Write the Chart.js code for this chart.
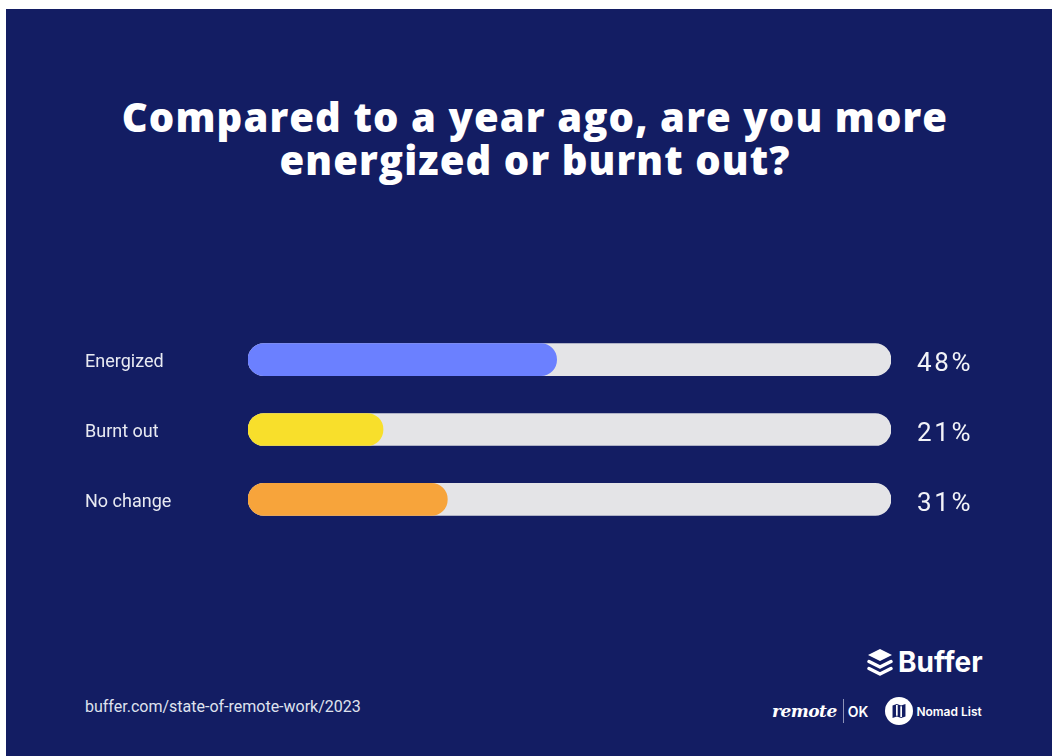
<!DOCTYPE html>
<html>
<head>
<meta charset="utf-8">
<script src="https://cdn.jsdelivr.net/npm/chart.js@4.4.1/dist/chart.umd.min.js"></script>
<style>
  html, body { margin: 0; padding: 0; background: #fff; }
  body { width: 1052px; height: 756px; position: relative; overflow: hidden; font-family: Roboto, "Noto Sans", sans-serif; }
  #panel { position: absolute; left: 6px; top: 9px; right: 0; bottom: 0; background: #131d63; }
  #title {
    position: absolute; left: 20px; width: 1030px; top: 95px;
    text-align: center; color: #fff;
    font-family: "Open Sans", Inter, sans-serif; font-weight: 800;
    font-size: 40px; line-height: 43px; letter-spacing: 1.1px;
  }
  #chart { position: absolute; left: 0; top: 314px; }
  #source { position: absolute; left: 85px; top: 697px; color: #dfe2ee; font-size: 16px; }
  #buffer { position: absolute; left: 867px; top: 645px; display: flex; align-items: center; color: #fff; }
  #buffer span { font-family: Inter, sans-serif; font-weight: 700; font-size: 28px; margin-left: 5px; letter-spacing: 0; }
  #partners { position: absolute; left: 772px; top: 698px; height: 26px; display: flex; align-items: center; color: #fff; }
  #partners .remote { font-family: "DejaVu Serif", serif; font-style: italic; font-weight: 700; font-size: 17px; letter-spacing: -0.5px; }
  #partners .bar { width: 1px; height: 24px; background: #8d93b8; margin: 0 4px 0 6px; }
  #partners .ok { font-family: Inter, sans-serif; font-weight: 600; font-size: 14px; }
  #partners .nomad { font-family: Inter, sans-serif; font-weight: 600; font-size: 12px; margin-left: 3px; }
  #partners svg { margin-left: 17px; }
</style>
</head>
<body>
<div id="panel"></div>
<div id="title">Compared to a year ago, are you more<br>energized or burnt out?</div>
<canvas id="chart" width="1052" height="231"></canvas>
<div id="source">buffer.com/state-of-remote-work/2023</div>
<div id="buffer">
  <svg width="26" height="29" viewBox="0 0 26 29">
    <path d="M13 1 L25 7 L13 13 L1 7 Z" fill="#fff"/>
    <path d="M2 13.5 L13 19 L24 13.5" stroke="#fff" stroke-width="3.4" fill="none" stroke-linejoin="round" stroke-linecap="round"/>
    <path d="M2 20.5 L13 26 L24 20.5" stroke="#fff" stroke-width="3.4" fill="none" stroke-linejoin="round" stroke-linecap="round"/>
  </svg>
  <span>Buffer</span>
</div>
<div id="partners">
  <span class="remote">remote</span><span class="bar"></span><span class="ok">OK</span>
  <svg width="28" height="28" viewBox="0 0 26 26">
    <circle cx="13" cy="13" r="13" fill="#fff"/>
    <path d="M7 8 L11 6.5 L15 8 L19 6.5 L19 18 L15 19.5 L11 18 L7 19.5 Z" fill="#131d63"/>
    <path d="M11 7.5 L11 17.5 M15 8.5 L15 18.5" stroke="#fff" stroke-width="1.6"/>
  </svg>
  <span class="nomad">Nomad List</span>
</div>

<script>
// ---- data ----
const categories = ["Energized", "Burnt out", "No change"];
const shares = [48, 21, 31];          // percent of respondents
const trackMax = [100, 100, 100];     // full-width grey track behind each bar
const barColors = ["#6b80ff", "#f8df2b", "#f7a43b"];

const TRACK_COLOR = "#e4e4e7";
const LABEL_COLOR = "#e8eaf2";

// percent labels to the right of each track
const valueLabels = {
  id: "valueLabels",
  afterDatasetsDraw(chart) {
    const { ctx, chartArea } = chart;
    const meta = chart.getDatasetMeta(0);
    ctx.save();
    ctx.font = "400 26px Roboto";
    ctx.fillStyle = "#f2f3f8";
    ctx.textAlign = "left";
    ctx.textBaseline = "middle";
    ctx.letterSpacing = "2.6px";
    meta.data.forEach((bar, i) => {
      ctx.fillText(shares[i] + "%", chartArea.right + 26, bar.y + 5);
    });
    ctx.restore();
  }
};

new Chart(document.getElementById("chart"), {
  type: "bar",
  data: {
    labels: categories,
    datasets: [
      {
        data: shares,
        backgroundColor: barColors,
        borderRadius: 16,
        borderSkipped: false,
        barThickness: 32,
        grouped: false
      },
      {
        data: trackMax,
        backgroundColor: TRACK_COLOR,
        borderRadius: 16,
        borderSkipped: false,
        barThickness: 32,
        grouped: false
      }
    ]
  },
  options: {
    indexAxis: "y",
    responsive: false,
    animation: false,
    layout: { padding: { left: 85, right: 161, top: 0, bottom: 0 } },
    scales: {
      x: { display: false, min: 0, max: 100 },
      y: {
        grid: { display: false },
        border: { display: false },
        ticks: {
          color: LABEL_COLOR,
          font: { family: "Roboto", size: 18 },
          crossAlign: "far",
          padding: 0,
          labelOffset: 3
        },
        afterFit(scale) { scale.width = 163; }
      }
    },
    plugins: { legend: { display: false }, tooltip: { enabled: false } }
  },
  plugins: [valueLabels]
});
</script>
</body>
</html>
